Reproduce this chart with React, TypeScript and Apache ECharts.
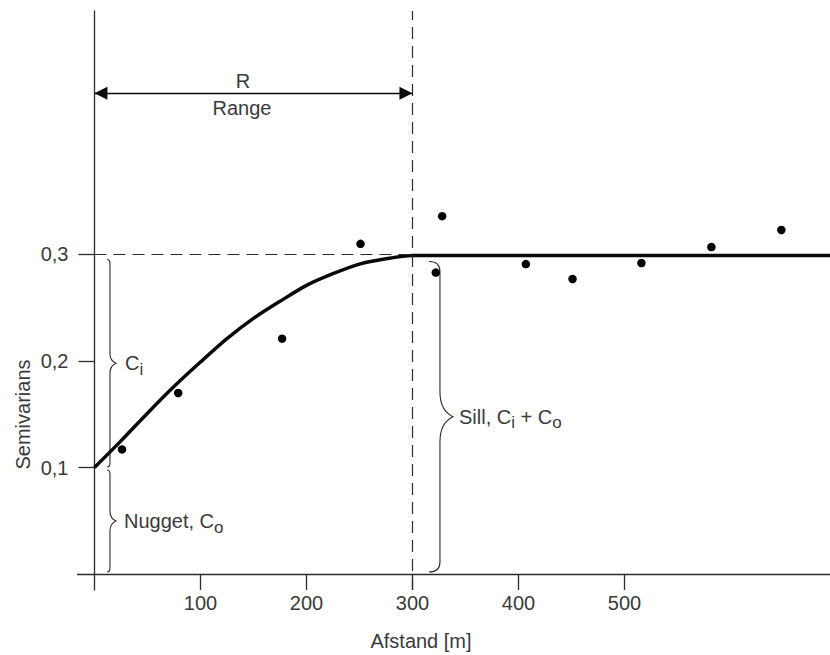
import React, { useEffect, useRef } from "react";
import * as echarts from "echarts";

// Experimental semivariogram: lag distance [m] and semivariance
const distance = [26, 79, 177, 251, 328, 322, 407, 451, 516, 582, 648];
const semivariance = [0.117, 0.17, 0.221, 0.31, 0.336, 0.283, 0.291, 0.277, 0.292, 0.307, 0.323];

// Fitted model curve (rises from the nugget to the sill at the range, then stays flat)
const modelDistance = [0, 25, 50, 75, 100, 125, 150, 175, 200, 225, 250, 275, 300, 400, 500, 600, 694];
const modelSemivariance = [0.1, 0.125, 0.151, 0.176, 0.199, 0.221, 0.24, 0.256, 0.271, 0.282, 0.291, 0.296, 0.299, 0.299, 0.299, 0.299, 0.299];

const xTicks = [100, 200, 300, 400, 500];
const yTicks = [0.1, 0.2, 0.3];

const NUGGET = 0.1;
const SILL = 0.3;
const RANGE = 300;

const X_MIN = -16;
const X_MAX = 694;
const Y_MIN = -0.015;
const Y_MAX = 0.5286;
const ARROW_LEVEL = 0.4514;

// Brace spans: [x anchor, lower value, upper value]
const braceSpans = [
  [0, 0, NUGGET],
  [0, NUGGET, SILL],
  [RANGE, 0, SILL],
];
const braceLabels = [
  "{m|Nugget, C}{s|o}",
  "{m|C}{s|i}",
  "{m|Sill, C}{s|i}{m| + C}{s|o}",
];

const FONT = "'Liberation Sans', Arial, sans-serif";
const TEXT = "#3a3a3a";
const INK = "#0a0a0a";

const braceLayout = [
  { dx: 15.5, gapTop: 2.5, gapBottom: 2, hook: 3, r: 4, tipW: 6, tipH: 10, labelGap: 8 },
  { dx: 15.5, gapTop: 5, gapBottom: 0.5, hook: 3, r: 4, tipW: 6, tipH: 10, labelGap: 9 },
  { dx: 27.5, gapTop: 7, gapBottom: 2, hook: 11, r: 10, tipW: 13, tipH: 25, labelGap: 6 },
];

function bracePath(x: number, yT: number, yB: number, hook: number, r: number, tipW: number, tipH: number) {
  const yM = (yT + yB) / 2;
  return (
    `M${x - hook},${yT} Q${x},${yT} ${x},${yT + r} ` +
    `L${x},${yM - tipH} Q${x},${yM - tipH * 0.25} ${x + tipW},${yM} ` +
    `Q${x},${yM + tipH * 0.25} ${x},${yM + tipH} ` +
    `L${x},${yB - r} Q${x},${yB} ${x - hook},${yB}`
  );
}

export default function App() {
  const ref = useRef<HTMLDivElement>(null);

  useEffect(() => {
    if (!ref.current) return;
    const chart = echarts.init(ref.current, null, { renderer: "svg" });

    const axisLineStyle = { color: "#2b2b2b", width: 1.3 };
    const labelStyle = { fontSize: 20, color: TEXT, fontFamily: FONT };

    const option: any = {
      animation: false,
      backgroundColor: "#ffffff",
      grid: { left: 77.5, top: 11, width: 752.6, height: 579, outerBoundsMode: "none" },
      xAxis: {
        type: "value",
        min: X_MIN,
        max: X_MAX,
        axisLine: { onZero: true, lineStyle: axisLineStyle },
        axisTick: { show: true, length: 16, customValues: xTicks, lineStyle: axisLineStyle },
        axisLabel: { customValues: xTicks, margin: 3, ...labelStyle },
        splitLine: { show: false },
      },
      yAxis: {
        type: "value",
        min: Y_MIN,
        max: Y_MAX,
        axisLine: { show: true, onZero: true, lineStyle: axisLineStyle },
        axisTick: { show: true, length: 16, customValues: yTicks, lineStyle: axisLineStyle },
        axisLabel: {
          customValues: yTicks,
          margin: 9,
          ...labelStyle,
          formatter: (v: number) => String(Math.round(v * 10) / 10).replace(".", ","),
        },
        splitLine: { show: false },
      },
      graphic: [
        {
          type: "text",
          x: 22.5,
          y: 414.5,
          rotation: Math.PI / 2,
          style: { text: "Semivarians", fontSize: 20, fill: TEXT, fontFamily: FONT, align: "center", verticalAlign: "middle" },
        },
        {
          type: "text",
          x: 421,
          y: 641,
          style: { text: "Afstand [m]", fontSize: 20, fill: TEXT, fontFamily: FONT, align: "center", verticalAlign: "middle" },
        },
        {
          type: "text",
          x: 243,
          y: 81,
          style: { text: "R", fontSize: 20, fill: TEXT, fontFamily: FONT, align: "center", verticalAlign: "middle" },
        },
        {
          type: "text",
          x: 242,
          y: 108,
          style: { text: "Range", fontSize: 20, fill: TEXT, fontFamily: FONT, align: "center", verticalAlign: "middle" },
        },
      ],
      series: [
        {
          name: "guides",
          type: "line",
          data: [],
          silent: true,
          markLine: {
            silent: true,
            symbol: "none",
            label: { show: false },
            lineStyle: { color: "#2b2b2b", width: 1.2, type: [12, 7] },
            data: [
              [{ coord: [RANGE, Y_MIN] }, { coord: [RANGE, Y_MAX] }],
              [{ coord: [0, SILL] }, { coord: [RANGE, SILL] }],
            ],
          },
        },
        {
          name: "range",
          type: "line",
          data: [],
          silent: true,
          markLine: {
            silent: true,
            symbol: ["triangle", "triangle"],
            symbolSize: [13, 13],
            symbolOffset: [[0, 6.5], [0, 6.5]],
            label: { show: false },
            lineStyle: { color: INK, width: 1.3, type: "solid" },
            itemStyle: { color: INK },
            data: [[{ coord: [0, ARROW_LEVEL] }, { coord: [RANGE, ARROW_LEVEL] }]],
          },
        },
        {
          name: "model",
          type: "line",
          data: modelDistance.map((d, i) => [d, modelSemivariance[i]]),
          showSymbol: false,
          smooth: 0.25,
          lineStyle: { color: INK, width: 3.5 },
          silent: true,
          z: 3,
        },
        {
          name: "observed",
          type: "scatter",
          data: distance.map((d, i) => [d, semivariance[i]]),
          symbol: "circle",
          symbolSize: 8.5,
          itemStyle: { color: "#000000", opacity: 1 },
          silent: true,
          z: 4,
        },
        {
          name: "braces",
          type: "custom",
          coordinateSystem: "cartesian2d",
          silent: true,
          clip: false,
          data: braceSpans,
          renderItem: (params: any, api: any) => {
            const idx = params.dataIndex;
            const L = braceLayout[idx];
            const [px, pLo] = api.coord([api.value(0), api.value(1)]);
            const pHi = api.coord([api.value(0), api.value(2)])[1];
            const x = px + L.dx;
            const yT = pHi + L.gapTop;
            const yB = pLo - L.gapBottom;
            const yM = (yT + yB) / 2;
            return {
              type: "group",
              children: [
                {
                  type: "path",
                  shape: { pathData: bracePath(x, yT, yB, L.hook, L.r, L.tipW, L.tipH) },
                  style: { stroke: "#2b2b2b", fill: "none", lineWidth: 1.1 },
                },
                {
                  type: "text",
                  x: x + L.tipW + L.labelGap,
                  y: yM,
                  style: {
                    text: braceLabels[idx],
                    align: "left",
                    verticalAlign: "middle",
                    fill: TEXT,
                    rich: {
                      m: { fontSize: 20, fontFamily: FONT, fill: TEXT, color: TEXT, verticalAlign: "middle" },
                      s: { fontSize: 17, fontFamily: FONT, fill: TEXT, color: TEXT, verticalAlign: "middle", padding: [12, 0, 0, 0] },
                    },
                  },
                },
              ],
            };
          },
        },
      ],
    };

    chart.setOption(option);
    return () => chart.dispose();
  }, []);

  return (
    <div
      ref={ref}
      style={{ position: "absolute", left: 0, top: 0, width: 830, height: 655, background: "#fff" }}
    />
  );
}
